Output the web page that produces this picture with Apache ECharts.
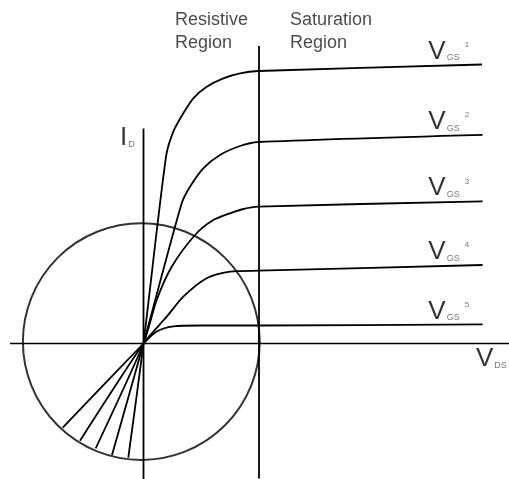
<!DOCTYPE html>
<html>
<head>
<meta charset="utf-8">
<script src="https://cdn.jsdelivr.net/npm/echarts@6/dist/echarts.min.js"></script>
<style>
  html, body { margin: 0; padding: 0; background: #fff; }
  #chart { width: 509px; height: 479px; }
</style>
</head>
<body>
<div id="chart"></div>
<script>
// MOSFET output characteristics, I_D vs V_DS (arbitrary units, origin at axes crossing)
// each curve starts with its extension below the origin
const vgs1 = [[-1.52, -11.42], [0, 0], [2.25, 18.68], [2.98, 21.18], [3.98, 23.02], [4.98, 24.52], [6.32, 25.68], [7.98, 26.52], [9.65, 27.02], [11.48, 27.25], [33.85, 27.9]]
const vgs2 = [[-3.15, -11.15], [0, 0], [3.82, 14.02], [4.65, 15.68], [5.98, 17.52], [7.65, 18.85], [9.65, 19.75], [11.48, 20.15], [33.91, 20.87]]
const vgs3 = [[-4.78, -10.48], [0, 0], [1.32, 4.35], [2.82, 7.68], [5.15, 10.85], [6.9, 12.3], [8.65, 13.02], [10.0, 13.45], [11.48, 13.68], [33.91, 14.22]]
const vgs4 = [[-6.35, -9.72], [0, 0], [2.32, 2.68], [3.98, 4.68], [6.32, 6.52], [8.65, 7.18], [11.48, 7.28], [33.91, 7.85]]
const vgs5 = [[-8.08, -8.42], [0, 0], [1.32, 1.2], [2.98, 1.72], [5.65, 1.8], [11.48, 1.8], [33.91, 1.91]]
const curves = [vgs1, vgs2, vgs3, vgs4, vgs5]
const curveIds = ['1', '2', '3', '4', '5']

// axes and the resistive / saturation boundary
const vdsAxis = [[-13.35, 0], [36.55, 0]]
const idAxis = [[0, 21.5], [0, -13.6]]
const boundary = [[11.55, 29.75], [11.55, -13.5]]

// the circle
const circleCenter = [-0.22, 0.19]
const circleRadius = 11.84

// texts
const regionTexts = [
  { text: 'Resistive\nRegion', at: [3.15, 33.45] },
  { text: 'Saturation\nRegion', at: [14.65, 33.45] }
]
const vgsLabelX = 28.48
const idLabelAt = [-2.35, 19.25]
const vdsLabelAt = [33.25, -2.85]

const xRange = [-14.35, 36.55]
const yRange = [-13.55, 34.35]

const font = '"Liberation Sans", Arial, Helvetica, sans-serif'
const ink = '#000'

const chart = echarts.init(document.getElementById('chart'))

const lineSeries = (data, width) => ({
  type: 'line',
  data: data,
  symbol: 'none',
  clip: false,
  silent: true,
  animation: false,
  lineStyle: { color: ink, width: width }
})

const subLabel = (main, sub, sup) => ({
  show: true,
  position: [0, 0],
  align: 'left',
  verticalAlign: 'bottom',
  formatter: '{v|' + main + '}{s|' + sub + '}' + (sup ? '{p|' + sup + '}' : ''),
  rich: {
    v: { fontFamily: font, fontSize: 26, lineHeight: 26, color: ink },
    s: { fontFamily: font, fontSize: 9, color: '#555', verticalAlign: 'bottom', padding: [0, 0, 2, 1] },
    p: { fontFamily: font, fontSize: 8, color: '#555', verticalAlign: 'top', padding: [2, 0, 0, 5] }
  }
})

const option = {
  animation: false,
  grid: { left: 0, right: 0, top: 0, bottom: 0 },
  xAxis: { type: 'value', min: xRange[0], max: xRange[1], show: false },
  yAxis: { type: 'value', min: yRange[0], max: yRange[1], show: false },
  series: [
    lineSeries(vdsAxis, 1.5),
    lineSeries(idAxis, 1.8),
    lineSeries(boundary, 1.8),
    ...curves.map(c => Object.assign(lineSeries(c, 1.8), { smooth: 0.25 })),
    {
      type: 'scatter',
      data: [circleCenter],
      symbol: 'circle',
      symbolSize: 0,
      silent: true,
      itemStyle: { color: 'rgba(0,0,0,0)', borderColor: ink, borderWidth: 2 }
    },
    {
      type: 'scatter',
      symbolSize: 0,
      silent: true,
      data: curves.map((c, i) => ({
        value: [vgsLabelX, c[c.length - 1][1]],
        label: subLabel('V', 'GS', curveIds[i])
      })).concat([
        { value: idLabelAt, label: subLabel('I', 'D') },
        { value: vdsLabelAt, label: subLabel('V', 'DS') }
      ]).concat(regionTexts.map(t => ({
        value: t.at,
        label: {
          show: true,
          position: [0, 0],
          align: 'left',
          verticalAlign: 'top',
          formatter: t.text,
          fontFamily: font,
          fontSize: 18,
          lineHeight: 22.6,
          color: '#1a1a1a'
        }
      })))
    }
  ]
}

chart.setOption(option)

// circle size in pixels from the data radius
const p0 = chart.convertToPixel({ gridIndex: 0 }, circleCenter)
const p1 = chart.convertToPixel({ gridIndex: 0 }, [circleCenter[0] + circleRadius, circleCenter[1]])
chart.setOption({ series: [{}, {}, {}, {}, {}, {}, {}, {}, { symbolSize: 2 * (p1[0] - p0[0]) }] })
</script>
</body>
</html>
